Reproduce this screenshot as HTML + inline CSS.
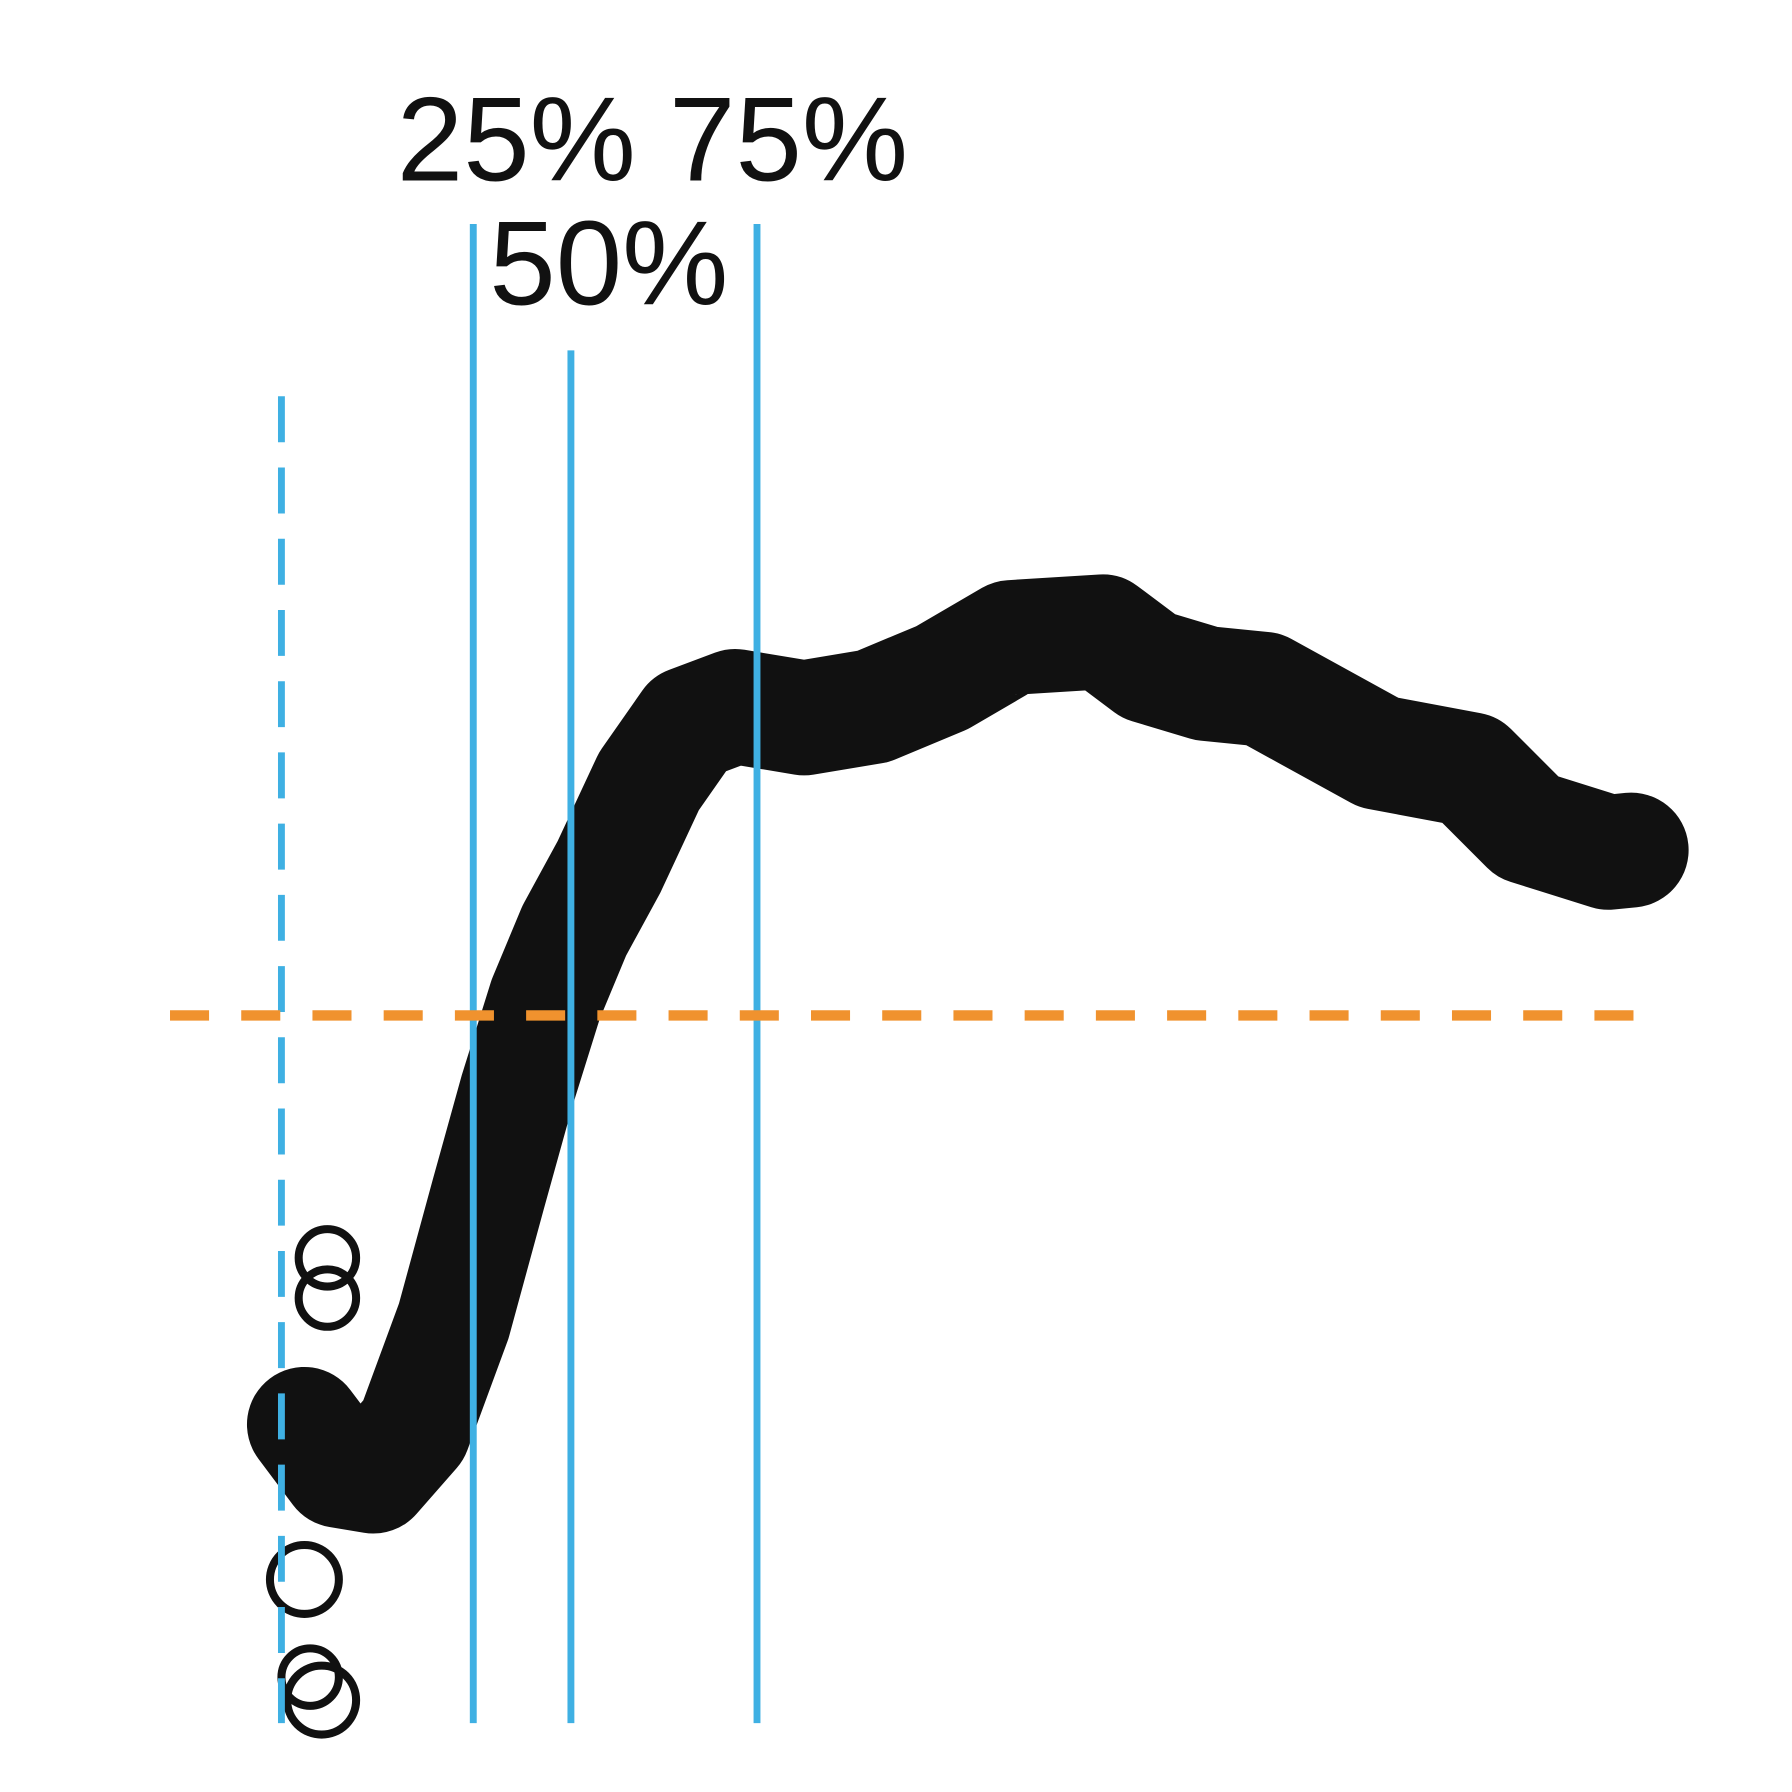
<!DOCTYPE html>
<html><head><meta charset="utf-8"><style>html,body{margin:0;padding:0;background:#fff}svg{display:block}</style></head>
<body>
<svg width="1792" height="1792" viewBox="0 0 1560 1560" xmlns="http://www.w3.org/2000/svg">
<rect width="1560" height="1560" fill="#fff"/>
<g id="marks"></g>
<line x1="245" y1="345" x2="245" y2="1500" stroke="#3fb0e3" stroke-width="6" stroke-dasharray="40,22"/>
<line x1="412" y1="195" x2="412" y2="1500" stroke="#3fb0e3" stroke-width="6"/>
<line x1="497" y1="305" x2="497" y2="1500" stroke="#3fb0e3" stroke-width="6"/>
<line x1="659" y1="195" x2="659" y2="1500" stroke="#3fb0e3" stroke-width="6"/>
<line x1="148" y1="884" x2="1432" y2="884" stroke="#f0922e" stroke-width="9" stroke-dasharray="34,28"/>
<text x="568" y="157" text-anchor="middle" font-family="Liberation Sans, sans-serif" font-size="104" fill="#111">25% 75%</text>
<text x="530" y="265" text-anchor="middle" font-family="Liberation Sans, sans-serif" font-size="104" fill="#111">50%</text>
<script>
const xs=[265,295,325,360,395,425,450,475,500,530,565,600,640,700,760,820,880,960,1000,1050,1100,1200,1280,1330,1400,1420];
const ys=[1240,1280,1285,1245,1150,1040,950,870,810,755,680,630,615,625,615,590,555,550,580,595,600,655,670,720,742,740];
const cx=[265,280,270,285,285];
const cy=[1375,1480,1460,1095,1130];
const cr=[30,30,25,25,25];
const g=document.getElementById('marks');
const ns='http://www.w3.org/2000/svg';
const p=document.createElementNS(ns,'path');


p.setAttribute('d',xs.map((x,i)=>(i?'L':'M')+x+','+ys[i]).join(''));
p.setAttribute('fill','none');p.setAttribute('stroke','#111');
p.setAttribute('stroke-width','100');p.setAttribute('stroke-linejoin','round');p.setAttribute('stroke-linecap','round');
g.appendChild(p);
cx.forEach((x,i)=>{const c=document.createElementNS(ns,'circle');


c.setAttribute('cx',x);c.setAttribute('cy',cy[i]);c.setAttribute('r',cr[i]);
c.setAttribute('fill','none');c.setAttribute('stroke','#111');c.setAttribute('stroke-width','7');g.appendChild(c);});
</script>
</svg>
</body></html>
